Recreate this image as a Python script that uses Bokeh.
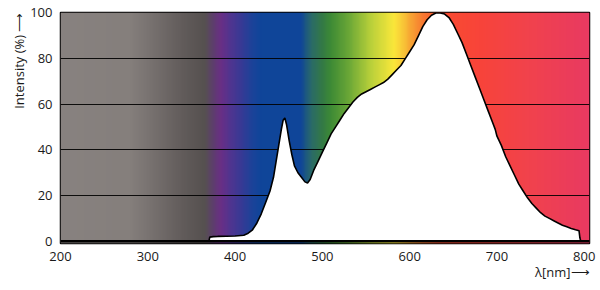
import numpy as np
from bokeh.plotting import figure
from bokeh.models import Range1d, Span, FixedTicker, Title
from bokeh.embed import file_html
from bokeh.resources import INLINE

# ---- data ----
wavelength = [370, 371, 375, 380, 390, 400, 410, 415, 420, 425, 430, 435, 440, 444, 447,
              450, 453, 455, 457, 459, 462, 465, 468, 472, 476, 480, 483, 486, 490, 495,
              500, 505, 510, 515, 520, 525, 530, 535, 540, 545, 550, 555, 560, 565, 570,
              575, 580, 585, 590, 595, 600, 605, 610, 615, 620, 625, 630, 635, 640, 645,
              650, 655, 660, 665, 670, 675, 680, 685, 690, 695, 698, 700, 705, 710, 715,
              720, 725, 730, 735, 740, 745, 750, 755, 760, 765, 770, 775, 780, 785, 790,
              794, 795, 796]
intensity = [0, 1.8, 2.0, 2.1, 2.2, 2.3, 2.6, 3.5, 5, 8, 12, 17, 22, 28, 35,
             42, 49, 53, 54, 51, 44, 38, 33, 30, 28, 26, 25.5, 27, 31, 35,
             39, 43, 47, 50, 53, 56, 58.5, 61, 63, 64.5, 65.5, 66.5, 67.5, 68.5, 69.5,
             71, 73, 75, 77, 80, 83, 86, 90, 94, 97, 99, 100, 100, 99.5, 98,
             95, 91, 87, 82, 77, 72, 67, 62, 57, 52, 49, 46, 42, 37, 33,
             29, 25, 22, 19, 16.5, 14.5, 12.5, 11, 10, 9, 8, 7, 6.3, 5.6, 5,
             4.6, 1.5, 0]

x_ticks = [200, 300, 400, 500, 600, 700, 800]
y_ticks = [0, 20, 40, 60, 80, 100]
x_title = "λ[nm]⟶"
y_title = "Intensity (%) ⟶"

# background spectrum colour stops (nm, colour)
grad_nm = [200, 280, 300, 340, 365, 375, 384, 395, 407, 420, 430, 475, 487, 500, 510,
           530, 555, 582, 592, 600, 615, 635, 680, 737, 806]
grad_colors = ["#888280", "#857f7c", "#7a7472", "#625c5b", "#565150", "#5e3d6e",
               "#6a2f86", "#4f3590", "#383a95", "#1b4399", "#0f4599", "#0f4599",
               "#2a6a6a", "#347a45", "#3e8b35", "#6aa737", "#b8d03a", "#fbe83a",
               "#f9c838", "#f7a834", "#f77a30", "#fa4d30", "#f8443a", "#f1424d",
               "#e93a62"]

X0, X1 = 200, 806
Y0, Y1 = -1, 100.2

p = figure(width=600, height=290, output_backend="svg", toolbar_location=None,
           x_range=Range1d(X0, X1), y_range=Range1d(Y0, Y1),
           min_border_left=60, min_border_right=11, min_border_top=12, min_border_bottom=47)
p.background_fill_color = "white"
p.border_fill_color = "white"

# gradient background as an image
N = X1 - X0
grid_nm = np.arange(X0, X1) + 0.5
rgb = np.array([[int(c[i:i + 2], 16) for i in (1, 3, 5)] for c in grad_colors], dtype=float)
img = np.empty((1, N), dtype=np.uint32)
view = img.view(dtype=np.uint8).reshape((1, N, 4))
for ch in range(3):
    view[0, :, ch] = np.interp(grid_nm, grad_nm, rgb[:, ch]).astype(np.uint8)
view[0, :, 3] = 255
bg = p.image_rgba(image=[img], x=X0, y=Y0, dw=N, dh=Y1 - Y0)
bg.level = "image"

# white area under the spectrum and its outline
p.varea(x=wavelength, y1=0, y2=intensity, fill_color="white")
p.line(x=wavelength, y=intensity, line_color="black", line_width=1.6)

p.add_layout(Span(location=0, dimension="width", line_color="black", line_width=2.5))

# grid
p.xgrid.visible = False
p.ygrid.ticker = FixedTicker(ticks=[20, 40, 60, 80])
p.ygrid.grid_line_color = "black"
p.ygrid.grid_line_width = 1.1
p.ygrid.grid_line_alpha = 0.9

p.outline_line_color = "black"
p.outline_line_width = 1.5

for ax, ticks in ((p.xaxis[0], x_ticks), (p.yaxis[0], y_ticks)):
    ax.ticker = FixedTicker(ticks=ticks)
    ax.axis_line_color = None
    ax.major_tick_line_color = None
    ax.minor_tick_line_color = None
    ax.major_label_text_font = "Open Sans"
    ax.major_label_text_font_size = "13px"
    ax.major_label_text_color = "#1a1a1a"
p.xaxis.major_label_standoff = 2
p.yaxis.major_label_standoff = 2

# axis titles (with arrows) as side titles, right-aligned
p.add_layout(Title(text=y_title, align="right", text_font="Open Sans",
                   text_font_size="13px", text_font_style="normal",
                   text_color="#1a1a1a", standoff=0), "left")
p.add_layout(Title(text=x_title, align="right", text_font="Open Sans",
                   text_font_size="13px", text_font_style="normal",
                   text_color="#1a1a1a", standoff=-6), "below")

open("out.html", "w").write(file_html(p, INLINE))
